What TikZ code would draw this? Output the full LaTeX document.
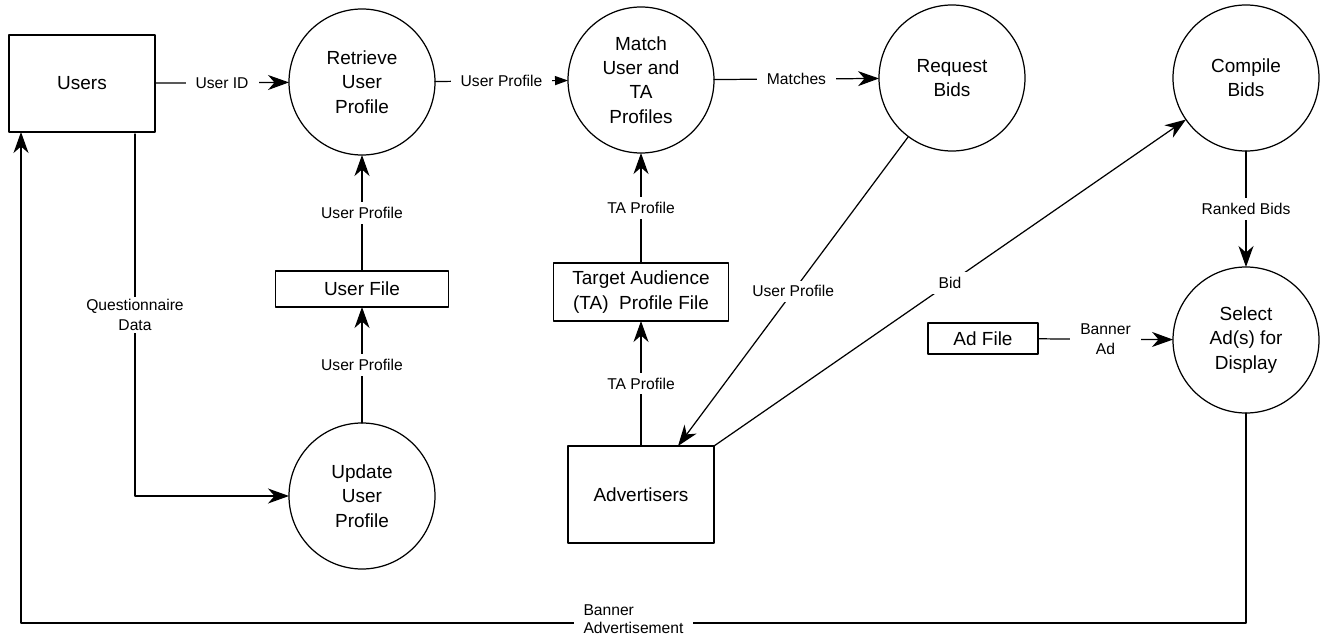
\documentclass[tikz,border=0pt]{standalone}
\usepackage{fontspec}
\setmainfont{Liberation Sans}
\usetikzlibrary{arrows.meta,positioning,calc}

\begin{document}
\begin{tikzpicture}[x=1cm,y=1cm, line cap=round, line join=round,
                    every node/.style={outer sep=0pt}]

  \tikzset{
    proc/.style={circle, draw=black, line width=0.7pt, minimum size=2.92cm, inner sep=0pt,
                 align=center, font=\fontsize{10.8pt}{13.8pt}\selectfont},
    ent/.style={rectangle, draw=black, line width=0.7pt, minimum width=2.92cm, minimum height=1.94cm,
                align=center, font=\fontsize{10.8pt}{13.8pt}\selectfont},
    store/.style={rectangle, draw=black, line width=0.7pt, inner sep=1pt,
                  align=center, font=\fontsize{10.8pt}{13.8pt}\selectfont},
    flow/.style={line width=0.7pt, draw=black, -{Stealth[length=4.2mm,width=3mm,inset=1.3mm]}},
    flowtri/.style={line width=0.7pt, draw=black, -{Triangle[length=2.6mm,width=1.8mm]}},
    lbl/.style={fill=white, inner xsep=2mm, inner ysep=1mm, align=center,
                font=\fontsize{8.9pt}{11pt}\selectfont}
  }

  \path[use as bounding box] (0,0) rectangle (26.44,12.72);

  % processes
  \node[proc] (ret) at (7.24,11.08) {Retrieve\\User\\Profile};
  \node[proc] (upd) at (7.24,2.80) {Update\\User\\Profile};
  \node[proc] (mat) at (12.82,11.12) {Match\\User and\\TA\\Profiles};
  \node[proc] (req) at (19.04,11.16) {Request\\Bids};
  \node[proc] (cmp) at (24.92,11.16) {Compile\\Bids};
  \node[proc] (sel) at (24.92,5.92) {Select\\Ad(s) for\\Display};

  % external entities
  \node[ent] (usr) at (1.64,11.05) {Users};
  \node[ent] (adv) at (12.82,2.83) {Advertisers};

  % data stores
  \node[store, minimum width=3.46cm, minimum height=0.72cm] (ufile) at (7.24,6.94) {User File};
  \node[store, minimum width=3.5cm, minimum height=1.16cm] (tafile) at (12.82,6.88) {Target Audience\\(TA)\ \ Profile File};
  \node[store, minimum width=2.2cm, minimum height=0.62cm] (afile) at (19.66,5.95) {Ad File};

  % data flows
  \draw[flow] (usr) -- node[lbl] {User ID} (ret);
  \draw[flowtri] (ret) -- node[lbl] {User Profile} (mat);
  \draw[flow] (mat) -- node[lbl] {Matches} (req);
  \draw[flow] (ufile) -- node[lbl] {User Profile} (ret);
  \draw[flow] (upd) -- node[lbl] {User Profile} (ufile);
  \draw[flow] (tafile) -- node[lbl] {TA Profile} (mat);
  \draw[flow] (adv) -- node[lbl] {TA Profile} (tafile);
  \draw[flow] (req) -- node[lbl] {User Profile} ([xshift=7.4mm]adv.north);
  \draw[flow] (adv.north east) -- node[lbl] {Bid} (cmp);
  \draw[flow] (cmp) -- node[lbl] {Ranked Bids} (sel);
  \draw[flow] (afile) -- node[lbl] {Banner\\Ad} (sel);
  \draw[flow] ([xshift=1.06cm,yshift=-0.04cm]usr.south) |- node[lbl, inner ysep=0.5mm, pos=0.25] {Questionnaire\\Data} (upd);

  % banner back to users
  \coordinate (bl) at (0.42,0.26);
  \draw[flow] (sel) |- node[lbl, pos=0.75, inner ysep=0.3mm, yshift=0.08cm, align=left,
                            font=\fontsize{8.9pt}{10.2pt}\selectfont] {Banner\\Advertisement} (bl)
              -- (bl |- usr.south);
\end{tikzpicture}
\end{document}
